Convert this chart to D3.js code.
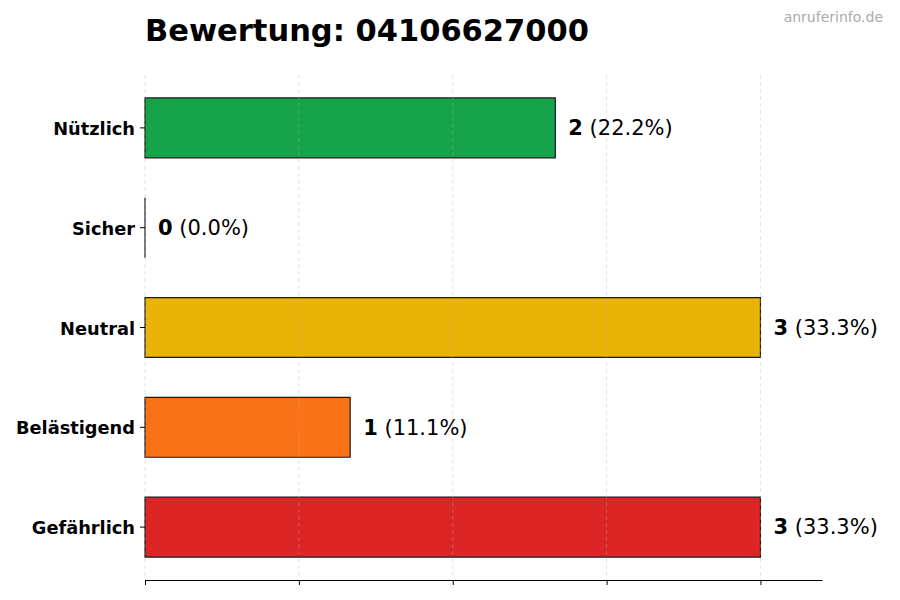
<!DOCTYPE html>
<html>
<head>
<meta charset="utf-8">
<script src="https://cdn.jsdelivr.net/npm/d3@7"></script>
<style>
  body { margin: 0; background: #fff; }
  text { font-family: "DejaVu Sans", sans-serif; }
</style>
</head>
<body>
<div id="chart"></div>
<script>
// Data
const categories = ["Nützlich", "Sicher", "Neutral", "Belästigend", "Gefährlich"];
const counts = [2, 0, 3, 1, 3];
const percents = ["22.2%", "0.0%", "33.3%", "11.1%", "33.3%"];
const barColors = ["#16a34a", "#22c55e", "#eab308", "#f97316", "#dc2626"];
const xTicks = [0, 0.75, 1.5, 2.25, 3];

// SVG setup
let svgWidth = 900;
let svgHeight = 600;
let margin = { top: 75, bottom: 20, left: 145, right: 78 };
let width = svgWidth - margin.left - margin.right;
let height = svgHeight - margin.top - margin.bottom;

let svg = d3.select("#chart")
    .append("svg")
    .attr("width", svgWidth)
    .attr("height", svgHeight);

let chartGroup = svg.append("g")
    .attr("transform", `translate(${margin.left},${margin.top})`);

// Scales
let xScale = d3.scaleLinear()
    .domain([0, d3.max(counts) * 1.1])
    .range([0, width]);
let yScale = d3.scaleBand()
    .domain(categories)
    .range([0, height])
    .paddingInner(0.4)
    .paddingOuter(0.23);

// Bars as paths so a zero bar still shows its edge
chartGroup.selectAll("path.bar")
    .data(categories)
    .enter()
    .append("path")
    .attr("class", "bar")
    .attr("d", (d, i) => {
        let x0 = xScale(0), x1 = xScale(counts[i]);
        let y0 = yScale(d), y1 = y0 + yScale.bandwidth();
        return `M${x0},${y0}H${x1}V${y1}H${x0}Z`;
    })
    .attr("fill", (d, i) => barColors[i])
    .attr("stroke", "#1a1a1a")
    .attr("stroke-width", 1.2);

// Gridlines (dashed, on top)
chartGroup.selectAll("line.grid")
    .data(xTicks)
    .enter()
    .append("line")
    .attr("class", "grid")
    .attr("x1", d => xScale(d))
    .attr("x2", d => xScale(d))
    .attr("y1", 0)
    .attr("y2", height)
    .attr("stroke", "#b0b0b0")
    .attr("stroke-opacity", 0.45)
    .attr("stroke-dasharray", "4,3")
    .attr("stroke-width", 0.8);

// Bottom axis, no labels
let bottomAxis = d3.axisBottom(xScale)
    .tickValues(xTicks)
    .tickFormat("")
    .tickSize(5)
    .tickSizeOuter(0);
chartGroup.append("g")
    .attr("transform", `translate(0,${height})`)
    .call(bottomAxis)
    .call(g => g.select(".domain").attr("stroke", "#000"));

// Left axis, no spine
let leftAxis = d3.axisLeft(yScale).tickSize(5).tickPadding(5);
chartGroup.append("g")
    .call(leftAxis)
    .call(g => g.select(".domain").remove())
    .call(g => g.selectAll("text")
        .attr("font-size", "17.8px")
        .attr("font-weight", "bold")
        .attr("fill", "#000")
        .attr("dy", "0.4em")
        .attr("font-family", "DejaVu Sans"));

// Value labels
let labels = chartGroup.selectAll("text.value")
    .data(categories)
    .enter()
    .append("text")
    .attr("class", "value")
    .attr("x", (d, i) => xScale(counts[i]) + 13)
    .attr("y", d => yScale(d) + yScale.bandwidth() / 2)
    .attr("dy", "0.35em")
    .attr("font-size", "21px")
    .attr("fill", "#000");
labels.append("tspan")
    .attr("font-weight", "bold")
    .text((d, i) => counts[i]);
labels.append("tspan")
    .text((d, i) => ` (${percents[i]})`);

// Title
svg.append("text")
    .attr("x", margin.left)
    .attr("y", 41)
    .attr("font-size", "30.5px")
    .attr("font-weight", "bold")
    .attr("fill", "#000")
    .text("Bewertung: 04106627000");

// Watermark
svg.append("text")
    .attr("x", 883)
    .attr("y", 22)
    .attr("text-anchor", "end")
    .attr("font-size", "14px")
    .attr("fill", "#aaaaaa")
    .text("anruferinfo.de");
</script>
</body>
</html>
